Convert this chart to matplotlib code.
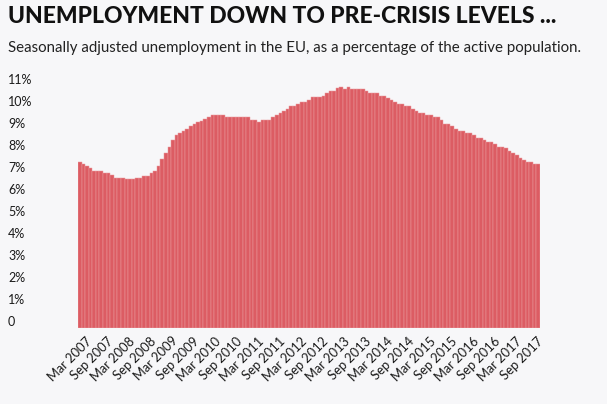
import matplotlib
matplotlib.use("Agg")
import matplotlib.pyplot as plt
from matplotlib.transforms import ScaledTranslation

title = "UNEMPLOYMENT DOWN TO PRE-CRISIS LEVELS ..."
subtitle = "Seasonally adjusted unemployment in the EU, as a percentage of the active population."

# Monthly values, Mar 2007 .. Nov 2017 (percent)
unemployment = [
    7.55, 7.45, 7.35, 7.26, 7.15, 7.15, 7.15, 7.05, 7.05, 6.94,
    6.83, 6.83, 6.83, 6.77, 6.77, 6.77, 6.84, 6.84, 6.93, 6.93,
    7.06, 7.15, 7.36, 7.67, 7.97, 8.23, 8.56, 8.77, 8.86, 8.97,
    9.05, 9.18, 9.26, 9.38, 9.39, 9.48, 9.60, 9.67, 9.67, 9.67,
    9.67, 9.59, 9.59, 9.59, 9.59, 9.59, 9.59, 9.59, 9.45, 9.45,
    9.37, 9.45, 9.45, 9.45, 9.59, 9.67, 9.77, 9.88, 9.95, 10.07,
    10.08, 10.17, 10.27, 10.27, 10.36, 10.48, 10.48, 10.48, 10.56, 10.68,
    10.76, 10.76, 10.91, 10.95, 10.88, 10.95, 10.88, 10.88, 10.88, 10.88,
    10.77, 10.68, 10.68, 10.68, 10.56, 10.56, 10.47, 10.36, 10.27, 10.17,
    10.17, 10.07, 10.07, 9.95, 9.86, 9.77, 9.77, 9.68, 9.68, 9.61,
    9.61, 9.47, 9.27, 9.27, 9.18, 9.05, 8.97, 8.97, 8.86, 8.86,
    8.77, 8.64, 8.64, 8.55, 8.44, 8.44, 8.36, 8.24, 8.24, 8.17,
    8.06, 7.95, 7.85, 7.74, 7.65, 7.55, 7.55, 7.45, 7.45,
]

x_tick_labels = [
    "Mar 2007", "Sep 2007", "Mar 2008", "Sep 2008", "Mar 2009", "Sep 2009",
    "Mar 2010", "Sep 2010", "Mar 2011", "Sep 2011", "Mar 2012", "Sep 2012",
    "Mar 2013", "Sep 2013", "Mar 2014", "Sep 2014", "Mar 2015", "Sep 2015",
    "Mar 2016", "Sep 2016", "Mar 2017", "Sep 2017",
]
y_ticks = [0, 1, 2, 3, 4, 5, 6, 7, 8, 9, 10, 11]
y_tick_labels = ["0"] + [f"{v}%" for v in y_ticks[1:]]

BG = "#f7f7f9"
BAR = "#dc5c63"
FONT = ["Lato", "DejaVu Sans"]
plt.rcParams["font.family"] = FONT

W, H, DPI = 607, 404, 100
fig = plt.figure(figsize=(W / DPI, H / DPI), dpi=DPI, facecolor=BG)
ax = fig.add_axes([78 / W, (H - 328) / H, 462 / W, 242 / H], facecolor=BG)

xs = list(range(len(unemployment)))
ax.bar(xs, unemployment, width=1.0, color=BAR, edgecolor="#eb9a9e", linewidth=0.35)
ax.set_xlim(-0.5, len(unemployment) - 0.5)
ax.set_ylim(0, 11)

for s in ax.spines.values():
    s.set_visible(False)

# y ticks: left aligned labels sitting above their value
ax.set_yticks(y_ticks)
ax.set_yticklabels(y_tick_labels, fontsize=9, color="#1a1a1a")
ax.tick_params(axis="y", length=0, pad=70 * 72 / DPI)
for lab in ax.get_yticklabels():
    lab.set_horizontalalignment("left")
    lab.set_transform(lab.get_transform() + ScaledTranslation(0, 7 / DPI, fig.dpi_scale_trans))

# x ticks every 6 months
tick_pos = list(range(0, len(unemployment), 6))[: len(x_tick_labels)]
ax.set_xticks(tick_pos)
ax.set_xticklabels(x_tick_labels, fontsize=9.3, color="#1a1a1a", rotation=45,
                   ha="right", va="center", rotation_mode="anchor")
ax.tick_params(axis="x", length=0, pad=11 * 72 / DPI)
for lab in ax.get_xticklabels():
    lab.set_transform(lab.get_transform() + ScaledTranslation(10 / DPI, 0, fig.dpi_scale_trans))

fig.text(8 / W, 1 - 6 / H, title, fontsize=16.5, fontweight="black", color="#111111",
         ha="left", va="top")
fig.text(8 / W, 1 - 41 / H, subtitle, fontsize=10.85, color="#222222", ha="left", va="top")

fig.savefig("out.png", dpi=DPI, facecolor=BG)
